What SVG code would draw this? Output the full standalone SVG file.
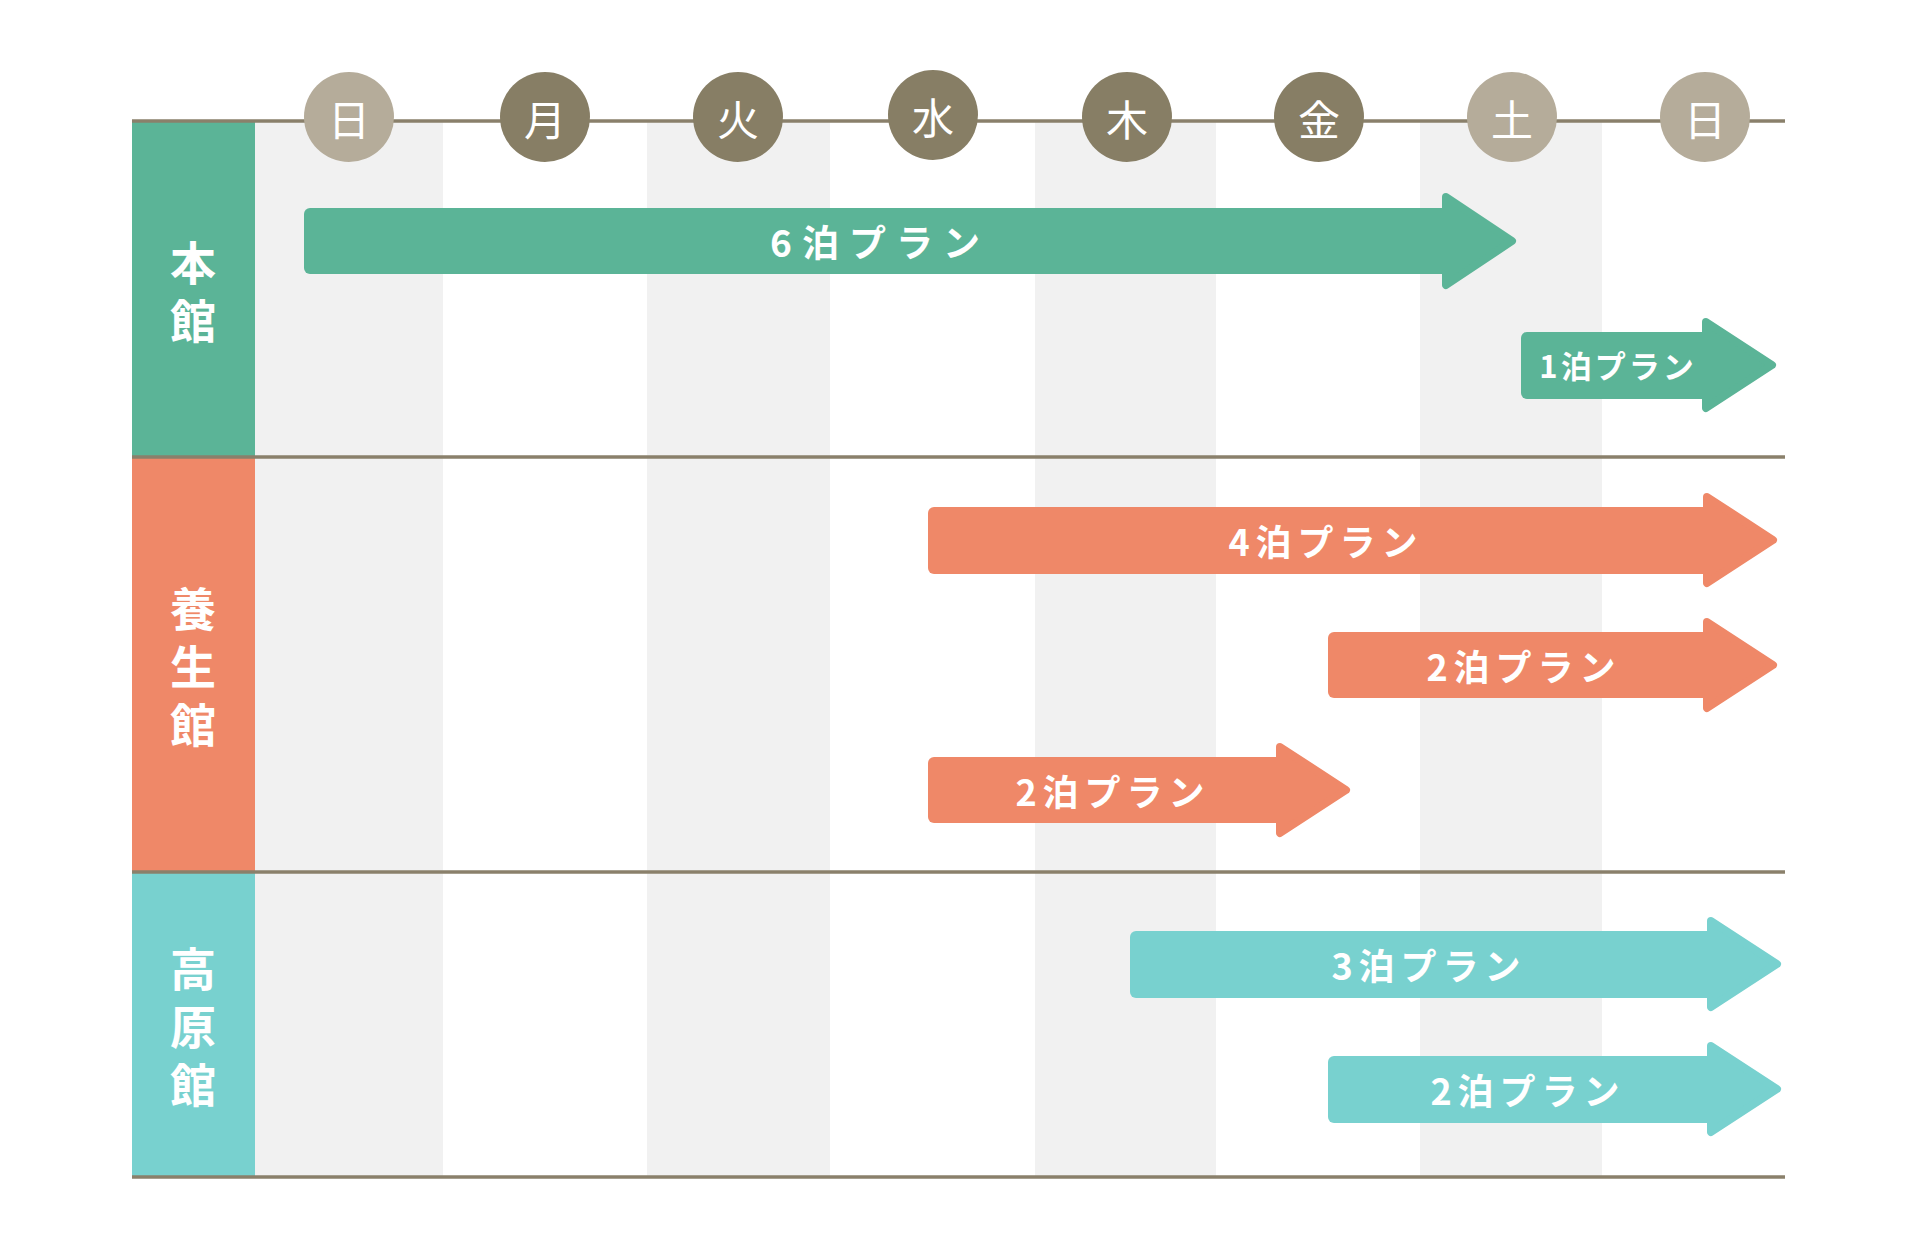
<svg xmlns="http://www.w3.org/2000/svg" width="1920" height="1248" viewBox="0 0 1920 1248">
<style>
.stripe{fill:#f1f1f1}
.rule{stroke:#8a806b;stroke-width:3.5;fill:none}
.dayD{fill:#877e65}
.dayL{fill:#b5ac9a}
.dayT{font-family:"Noto Sans CJK JP","Noto Sans",sans-serif;font-size:42px;fill:#ffffff;text-anchor:middle;dominant-baseline:central}
.sec{font-family:"Noto Sans CJK JP","Noto Sans",sans-serif;font-size:46px;font-weight:700;fill:#ffffff;text-anchor:middle;writing-mode:vertical-rl;letter-spacing:12px}
.lbl{font-family:"Noto Sans CJK JP","Noto Sans",sans-serif;font-size:36px;font-weight:700;fill:#ffffff;text-anchor:middle;dominant-baseline:central;letter-spacing:6px}
.g{fill:#5bb497;stroke:#5bb497}
.o{fill:#ef8868;stroke:#ef8868}
.t{fill:#78d1cf;stroke:#78d1cf}
.head{stroke-width:8;stroke-linejoin:round}
.body{stroke:none}
</style>
<rect width="1920" height="1248" fill="#ffffff"/>
<g id="stripes">
<rect class="stripe" x="255" y="121" width="188" height="1056"/>
<rect class="stripe" x="647" y="121" width="183" height="1056"/>
<rect class="stripe" x="1035" y="121" width="181" height="1056"/>
<rect class="stripe" x="1420" y="121" width="182" height="1056"/>
</g>
<g id="sec-honkan">
<rect x="132" y="121" width="123" height="336" fill="#5bb497"/>
<text class="sec" x="193" y="298">本館</text>
</g>
<g id="sec-youjoukan">
<rect x="132" y="457" width="123" height="415" fill="#ef8868"/>
<text class="sec" x="193" y="673">養生館</text>
</g>
<g id="sec-kougenkan">
<rect x="132" y="872" width="123" height="305" fill="#78d1cf"/>
<text class="sec" x="193" y="1033">高原館</text>
</g>
<g id="connectors">
<line class="rule" x1="132" y1="121" x2="1785" y2="121"/>
<line class="rule" x1="132" y1="457" x2="1785" y2="457"/>
<line class="rule" x1="132" y1="872" x2="1785" y2="872"/>
<line class="rule" x1="132" y1="1177" x2="1785" y2="1177"/>
</g>
<g id="day-sun1"><circle class="dayL" cx="349" cy="117" r="45"/><text class="dayT" x="349" y="117">日</text></g>
<g id="day-mon"><circle class="dayD" cx="545" cy="117" r="45"/><text class="dayT" x="545" y="117">月</text></g>
<g id="day-tue"><circle class="dayD" cx="738" cy="117" r="45"/><text class="dayT" x="738" y="117">火</text></g>
<g id="day-wed"><circle class="dayD" cx="933" cy="115" r="45"/><text class="dayT" x="933" y="115">水</text></g>
<g id="day-thu"><circle class="dayD" cx="1127" cy="117" r="45"/><text class="dayT" x="1127" y="117">木</text></g>
<g id="day-fri"><circle class="dayD" cx="1319" cy="117" r="45"/><text class="dayT" x="1319" y="117">金</text></g>
<g id="day-sat"><circle class="dayL" cx="1512" cy="117" r="45"/><text class="dayT" x="1512" y="117">土</text></g>
<g id="day-sun2"><circle class="dayL" cx="1705" cy="117" r="45"/><text class="dayT" x="1705" y="117">日</text></g>
<g id="plan-6">
<rect class="g body" x="304" y="208" width="1148" height="66" rx="6"/>
<polygon class="g head" points="1446,197 1512,241 1446,285"/>
<text class="lbl" x="880" y="241" style="letter-spacing:10px;font-size:37px">6泊プラン</text>
</g>
<g id="plan-1">
<rect class="g body" x="1521" y="332" width="191" height="67" rx="6"/>
<polygon class="g head" points="1706,322 1772,365 1706,408"/>
<text class="lbl" x="1618" y="364" style="letter-spacing:3px;font-size:31px">1泊プラン</text>
</g>
<g id="plan-4">
<rect class="o body" x="928" y="507" width="785" height="67" rx="6"/>
<polygon class="o head" points="1707,497 1773,540 1707,583"/>
<text class="lbl" x="1326" y="540">4泊プラン</text>
</g>
<g id="plan-2a">
<rect class="o body" x="1328" y="632" width="385" height="66" rx="6"/>
<polygon class="o head" points="1707,622 1773,665 1707,708"/>
<text class="lbl" x="1524" y="665">2泊プラン</text>
</g>
<g id="plan-2b">
<rect class="o body" x="928" y="757" width="358" height="66" rx="6"/>
<polygon class="o head" points="1280,747 1346,790 1280,833"/>
<text class="lbl" x="1113" y="790">2泊プラン</text>
</g>
<g id="plan-3">
<rect class="t body" x="1130" y="931" width="587" height="67" rx="6"/>
<polygon class="t head" points="1711,921 1777,964 1711,1007"/>
<text class="lbl" x="1429" y="964">3泊プラン</text>
</g>
<g id="plan-2c">
<rect class="t body" x="1328" y="1056" width="389" height="67" rx="6"/>
<polygon class="t head" points="1711,1046 1777,1089 1711,1132"/>
<text class="lbl" x="1528" y="1089">2泊プラン</text>
</g>
</svg>
